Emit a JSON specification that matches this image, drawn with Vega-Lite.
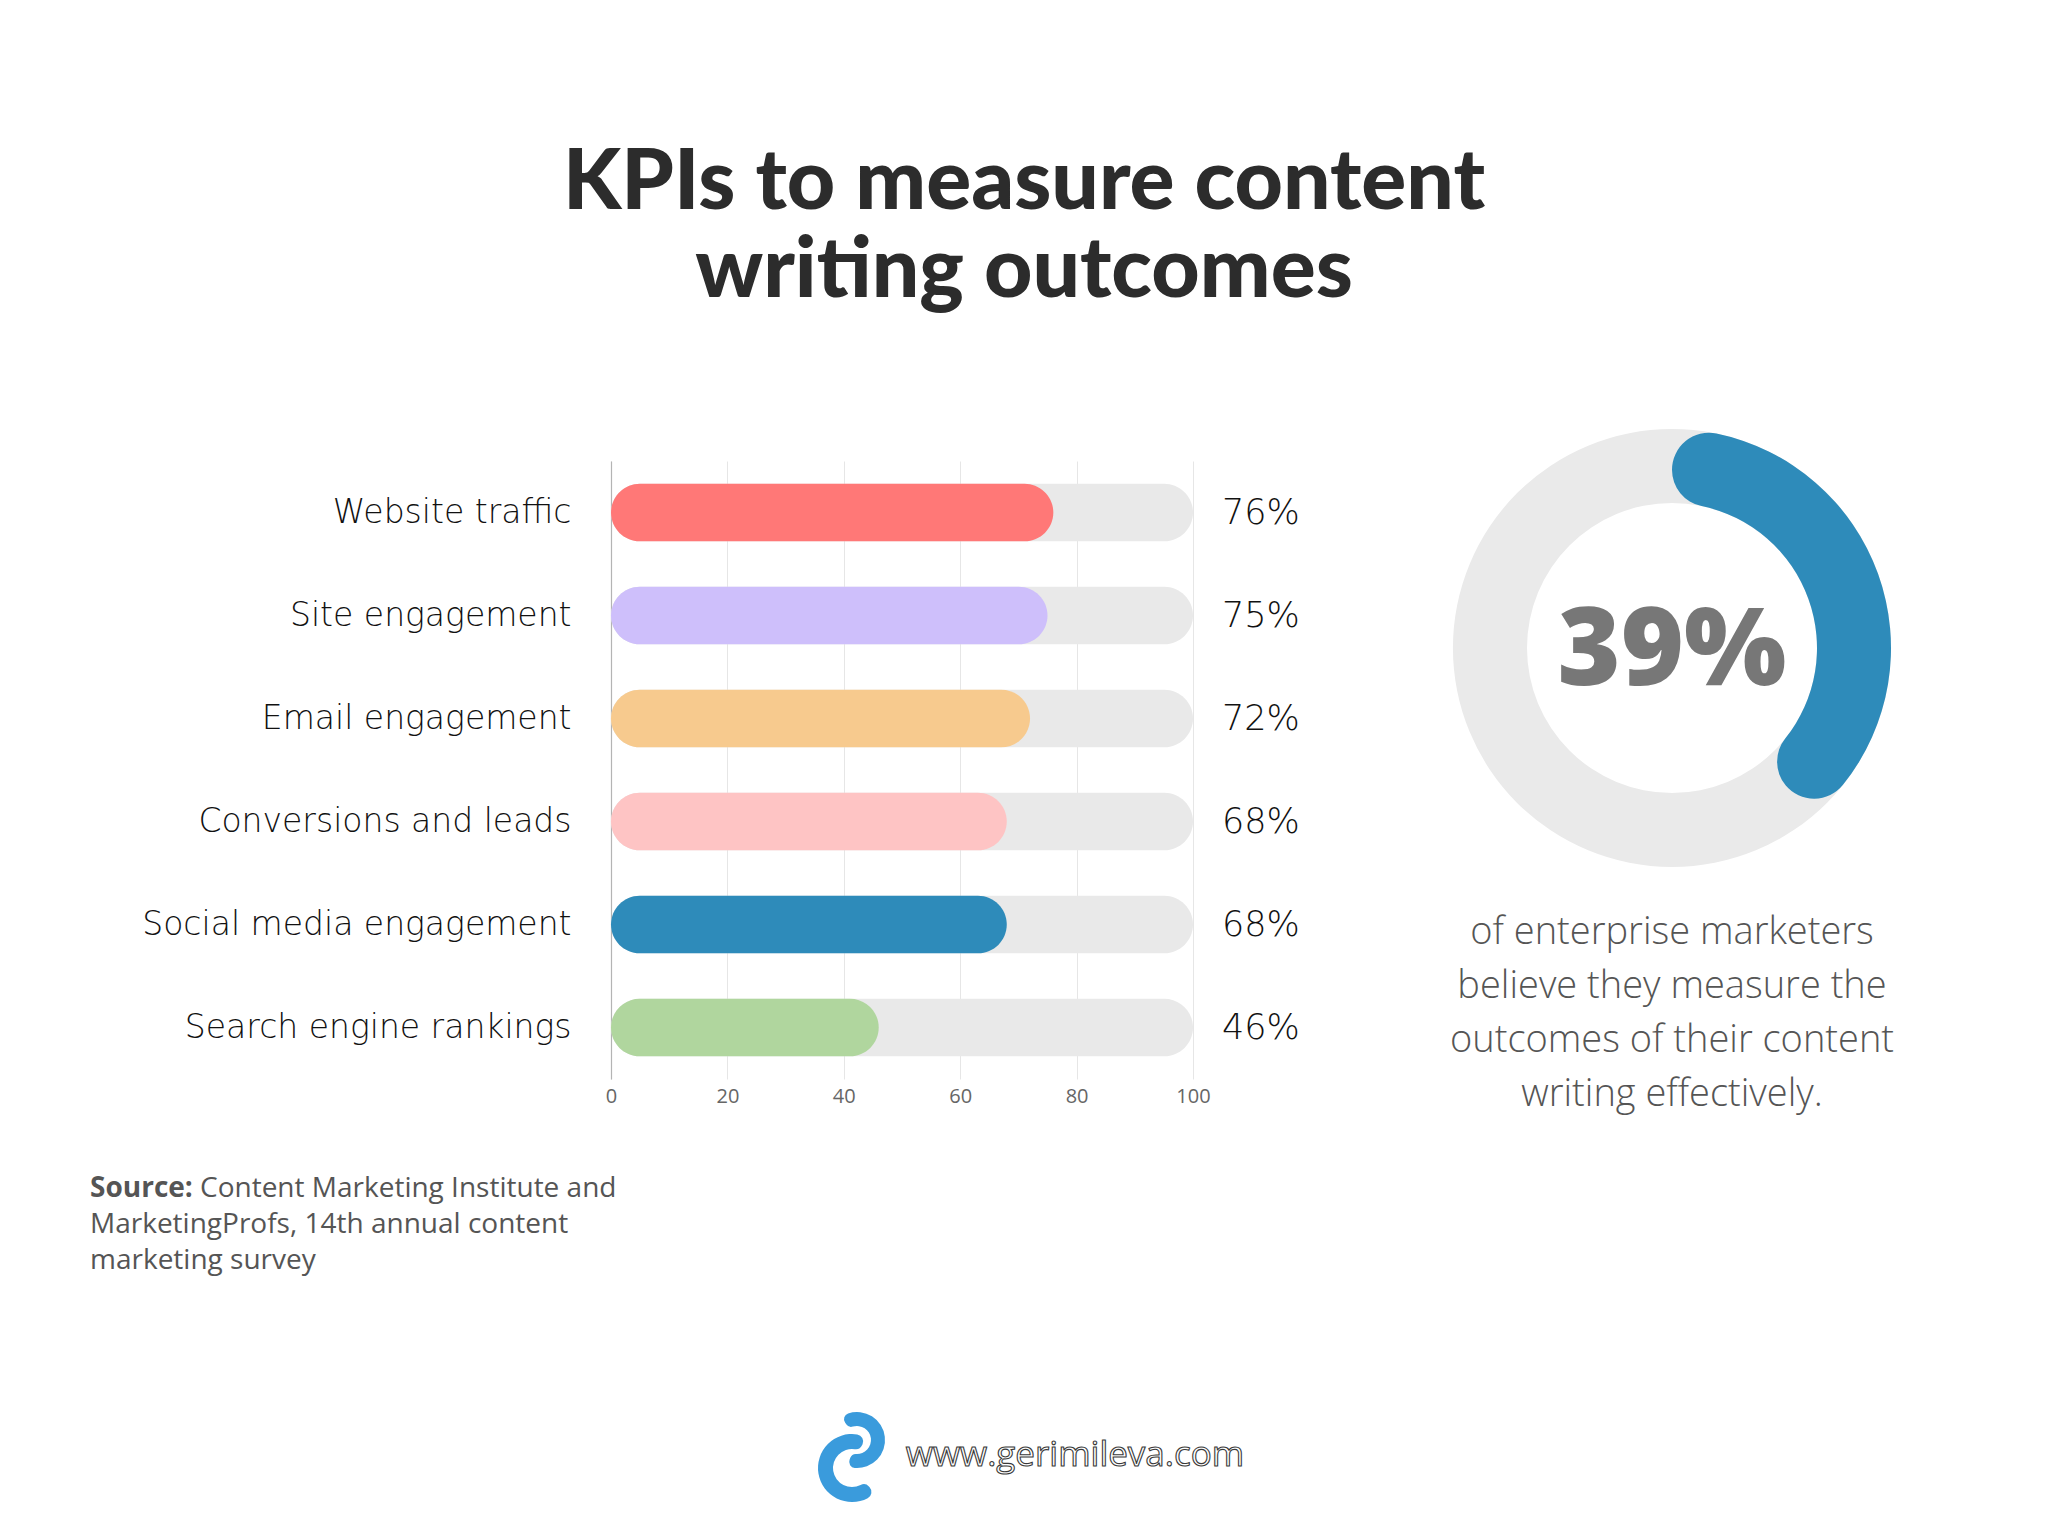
{
  "$schema": "https://vega.github.io/schema/vega-lite/v6.json",
  "autosize": {"type": "none"},
  "width": 582,
  "height": 618,
  "padding": {"left": 611, "top": 461, "right": 855, "bottom": 457},
  "background": "#ffffff",
  "config": {"view": {"stroke": null}, "font": "Open Sans"},
  "datasets": {
    "kpis": [
      {"kpi": "Website traffic", "share": 0.76},
      {"kpi": "Site engagement", "share": 0.75},
      {"kpi": "Email engagement", "share": 0.72},
      {"kpi": "Conversions and leads", "share": 0.68},
      {"kpi": "Social media engagement", "share": 0.68},
      {"kpi": "Search engine rankings", "share": 0.46}
    ],
    "enterprise": [{"group": "Enterprise marketers who measure content outcomes effectively", "share": 0.39}]
  },
  "layer": [
    {
      "data": {"name": "kpis"},
      "mark": {"type": "bar", "color": "#E9E9E9", "cornerRadius": 29},
      "encoding": {
        "y": {
          "field": "kpi", "type": "nominal", "sort": null,
          "scale": {"paddingInner": 0.44, "paddingOuter": 0.22},
          "axis": {"title": null, "domain": true, "domainColor": "#B4B4B4", "domainWidth": 1.2, "ticks": false, "grid": false,
                   "labelPadding": 40, "labelFontSize": 33, "labelFont": "DejaVu Sans", "labelFontWeight": 200, "labelColor": "#111111", "labelLimit": 0}
        },
        "x": {
          "datum": 1, "type": "quantitative",
          "scale": {"domain": [0, 1], "nice": false},
          "axis": {"title": null, "values": [0, 0.2, 0.4, 0.6, 0.8, 1], "labelExpr": "format(datum.value * 100, 'd')",
                   "grid": true, "gridColor": "#E6E6E6", "gridWidth": 1, "domain": false, "ticks": false, "labelFlush": false,
                   "labelFontSize": 20, "labelColor": "#666666", "labelPadding": 7, "labelFont": "Open Sans"}
        }
      }
    },
    {
      "data": {"name": "kpis"},
      "mark": {"type": "bar", "cornerRadius": 29},
      "encoding": {
        "y": {"field": "kpi", "type": "nominal", "sort": null},
        "x": {"field": "share", "type": "quantitative", "stack": null},
        "color": {
          "field": "kpi", "type": "nominal", "legend": null,
          "scale": {
            "domain": ["Website traffic", "Site engagement", "Email engagement", "Conversions and leads", "Social media engagement", "Search engine rankings"],
            "range": ["#FF7877", "#CEBFFB", "#F7CA8E", "#FEC4C4", "#2E8BBA", "#B0D69E"]
          }
        }
      }
    },
    {
      "data": {"name": "kpis"},
      "mark": {"type": "text", "align": "left", "baseline": "middle", "dx": 29, "fontSize": 35, "font": "DejaVu Sans", "fontWeight": 200, "color": "#111111"},
      "encoding": {
        "y": {"field": "kpi", "type": "nominal", "sort": null},
        "x": {"datum": 1, "type": "quantitative"},
        "text": {"field": "share", "type": "quantitative", "format": ".0%"}
      }
    },
    {
      "data": {"values": [{}]},
      "mark": {"type": "text", "x": 413, "y": -252, "align": "center", "baseline": "alphabetic", "fontSize": 84, "fontWeight": 900, "font": "Lato", "color": "#2C2C2C",
               "text": "KPIs to measure content"},
      "encoding": {}
    },
    {
      "data": {"values": [{}]},
      "mark": {"type": "text", "x": 413, "y": -164, "align": "center", "baseline": "alphabetic", "fontSize": 84, "fontWeight": 900, "font": "Lato", "color": "#2C2C2C",
               "text": "writing outcomes"},
      "encoding": {}
    },
    {
      "data": {"values": [{}]},
      "mark": {"type": "arc", "x": 1061, "y": 187, "radius": 219, "radius2": 145, "theta": 0, "theta2": 6.2832, "color": "#EAEAEA"},
      "encoding": {}
    },
    {
      "data": {"name": "enterprise"},
      "mark": {"type": "arc", "x": 1061, "y": 187, "radius": 219, "radius2": 145, "cornerRadius": 37, "color": "#2E8BBA"},
      "encoding": {
        "theta": {"field": "share", "type": "quantitative", "scale": {"domain": [0, 1], "range": [0, 6.2832]}}
      }
    },
    {
      "data": {"name": "enterprise"},
      "mark": {"type": "text", "x": 1061, "y": 224, "align": "center", "baseline": "alphabetic", "fontSize": 108, "fontWeight": 800, "font": "Open Sans", "color": "#777777"},
      "encoding": {
        "text": {"field": "share", "type": "quantitative", "format": ".0%"}
      }
    },
    {
      "data": {"values": [{}]},
      "mark": {"type": "text", "x": 1061, "y": 483, "align": "center", "baseline": "alphabetic", "fontSize": 38, "fontWeight": 300, "font": "Open Sans", "color": "#555555", "lineHeight": 54,
               "text": ["of enterprise marketers", "believe they measure the", "outcomes of their content", "writing effectively."]},
      "encoding": {}
    },
    {
      "data": {"values": [{}]},
      "mark": {"type": "text", "x": -521, "y": 736, "align": "left", "baseline": "alphabetic", "fontSize": 28, "fontWeight": 700, "font": "Open Sans", "color": "#555555", "text": "Source:"},
      "encoding": {}
    },
    {
      "data": {"values": [{}]},
      "mark": {"type": "text", "x": -411, "y": 736, "align": "left", "baseline": "alphabetic", "fontSize": 28, "fontWeight": 400, "font": "Open Sans", "color": "#555555", "text": "Content Marketing Institute and"},
      "encoding": {}
    },
    {
      "data": {"values": [{}]},
      "mark": {"type": "text", "x": -521, "y": 772, "align": "left", "baseline": "alphabetic", "fontSize": 28, "fontWeight": 400, "font": "Open Sans", "color": "#555555", "lineHeight": 36,
               "text": ["MarketingProfs, 14th annual content", "marketing survey"]},
      "encoding": {}
    },
    {
      "data": {"values": [{}]},
      "mark": {"type": "arc", "x": 246, "y": 979, "radius": 28, "radius2": 14, "theta": -0.6, "theta2": 3.5, "cornerRadius": 6, "color": "#3A9BDC"},
      "encoding": {}
    },
    {
      "data": {"values": [{}]},
      "mark": {"type": "arc", "x": 241, "y": 1007, "radius": 34, "radius2": 19, "theta": 2.4, "theta2": 6.7, "cornerRadius": 7, "color": "#3A9BDC"},
      "encoding": {}
    },
    {
      "data": {"values": [{}]},
      "mark": {"type": "text", "x": 464, "y": 1005, "align": "center", "baseline": "alphabetic", "fontSize": 35, "fontWeight": 400, "font": "Open Sans", "fill": "#ffffff", "stroke": "#3A3A3A", "strokeWidth": 1.1, "text": "www.gerimileva.com"},
      "encoding": {}
    }
  ]
}
